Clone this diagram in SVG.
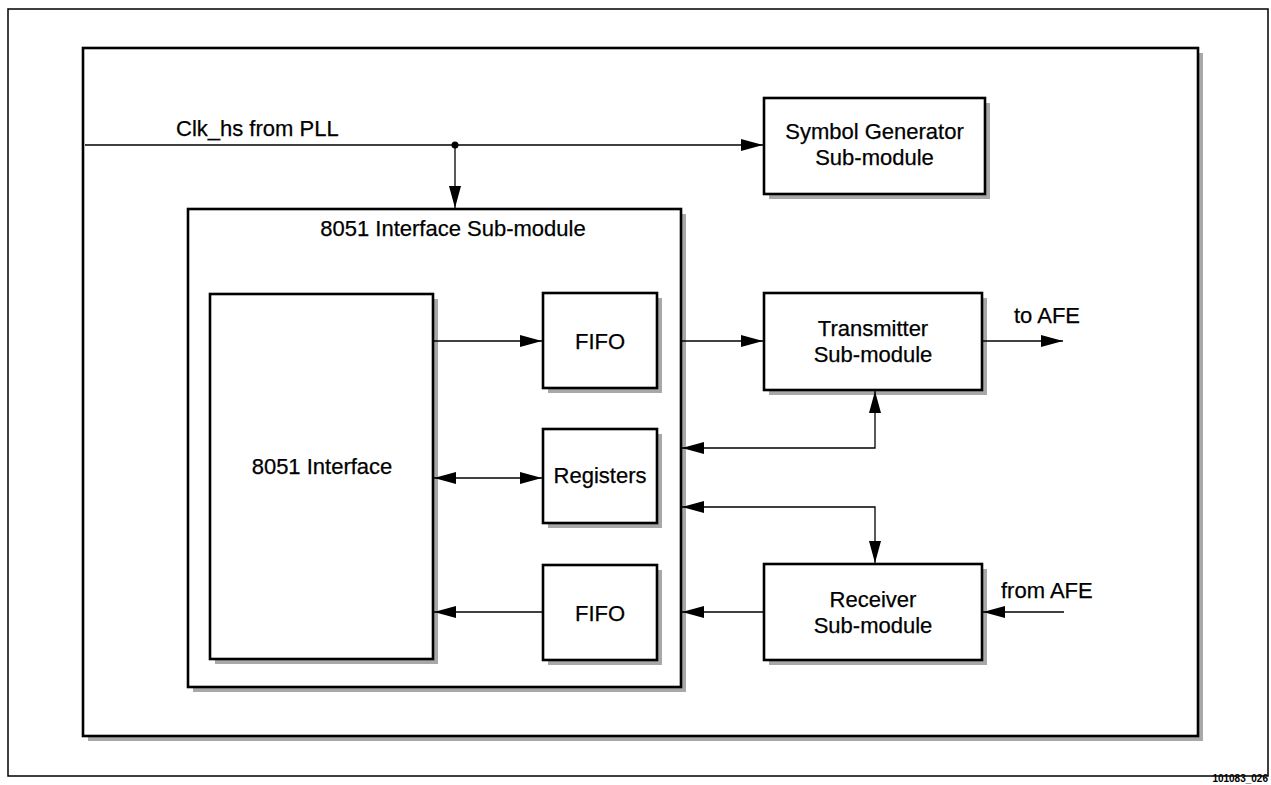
<svg xmlns="http://www.w3.org/2000/svg" width="1271" height="785" viewBox="0 0 1271 785">
<style>
.box{fill:#fff;stroke:#000;stroke-width:2.6}
.shadow{fill:#a8a8a8}
.t{font-family:"Liberation Sans",Arial,sans-serif;font-size:22px;fill:#000;stroke:#000;stroke-width:0.25}
.c{text-anchor:middle}
.w{fill:none;stroke:#000;stroke-width:1.3}
</style>
<defs>
<marker id="ah" markerUnits="userSpaceOnUse" markerWidth="22" markerHeight="12" refX="22" refY="6" orient="auto-start-reverse" viewBox="0 0 22 12">
<path d="M0,0 L22,6 L0,12 z" fill="#000"/>
</marker>
</defs>
<rect x="0" y="0" width="1271" height="785" fill="#fff"/>
<rect x="8" y="9" width="1260" height="767" fill="none" stroke="#000" stroke-width="1.5"/>
<g id="frame">
<rect class="shadow" x="88" y="53" width="1115" height="688"/>
<rect class="box" x="83" y="48" width="1115" height="688"/>
</g>
<g id="symgen">
<rect class="shadow" x="769" y="103" width="221" height="96"/>
<rect class="box" x="764" y="98" width="221" height="96"/>
<text class="t c" x="874.5" y="139">Symbol Generator</text>
<text class="t c" x="874.5" y="165">Sub-module</text>
</g>
<g id="ifsub">
<rect class="shadow" x="193" y="214" width="493" height="478"/>
<rect class="box" x="188" y="209" width="493" height="478"/>
<text class="t c" x="453" y="236">8051 Interface Sub-module</text>
</g>
<g id="if8051">
<rect class="shadow" x="215" y="299" width="223" height="365"/>
<rect class="box" x="210" y="294" width="223" height="365"/>
<text class="t c" x="322" y="474">8051 Interface</text>
</g>
<g id="fifo1">
<rect class="shadow" x="548" y="298" width="114" height="95"/>
<rect class="box" x="543" y="293" width="114" height="95"/>
<text class="t c" x="600" y="349">FIFO</text>
</g>
<g id="regs">
<rect class="shadow" x="548" y="434" width="114" height="94"/>
<rect class="box" x="543" y="429" width="114" height="94"/>
<text class="t c" x="600" y="483">Registers</text>
</g>
<g id="fifo2">
<rect class="shadow" x="548" y="570" width="114" height="95"/>
<rect class="box" x="543" y="565" width="114" height="95"/>
<text class="t c" x="600" y="621">FIFO</text>
</g>
<g id="tx">
<rect class="shadow" x="769" y="298" width="218" height="97"/>
<rect class="box" x="764" y="293" width="218" height="97"/>
<text class="t c" x="873" y="336">Transmitter</text>
<text class="t c" x="873" y="362">Sub-module</text>
</g>
<g id="rx">
<rect class="shadow" x="769" y="569" width="218" height="96"/>
<rect class="box" x="764" y="564" width="218" height="96"/>
<text class="t c" x="873" y="607">Receiver</text>
<text class="t c" x="873" y="633">Sub-module</text>
</g>
<g id="connectors">
<path class="w" d="M85,145 H763" marker-end="url(#ah)"/>
<circle cx="455" cy="145" r="3.5" fill="#000"/>
<path class="w" d="M455,145 V208" marker-end="url(#ah)"/>
<path class="w" d="M434,341 H542" marker-end="url(#ah)"/>
<path class="w" d="M682,341 H763" marker-end="url(#ah)"/>
<path class="w" d="M983,341 H1063" marker-end="url(#ah)"/>
<path class="w" d="M434,478 H542" marker-start="url(#ah)" marker-end="url(#ah)"/>
<path class="w" d="M682,448 H875 V391" marker-start="url(#ah)" marker-end="url(#ah)"/>
<path class="w" d="M682,507 H875 V563" marker-start="url(#ah)" marker-end="url(#ah)"/>
<path class="w" d="M1064,612 H983" marker-end="url(#ah)"/>
<path class="w" d="M763,612 H682" marker-end="url(#ah)"/>
<path class="w" d="M542,612 H434" marker-end="url(#ah)"/>
</g>
<text class="t" x="176" y="136">Clk_hs from PLL</text>
<text class="t" x="1014" y="323">to AFE</text>
<text class="t" x="1001" y="598">from AFE</text>
<text x="1268" y="782" text-anchor="end" font-family="'Liberation Sans',Arial,sans-serif" font-size="10" font-weight="bold">101083_026</text>
</svg>
